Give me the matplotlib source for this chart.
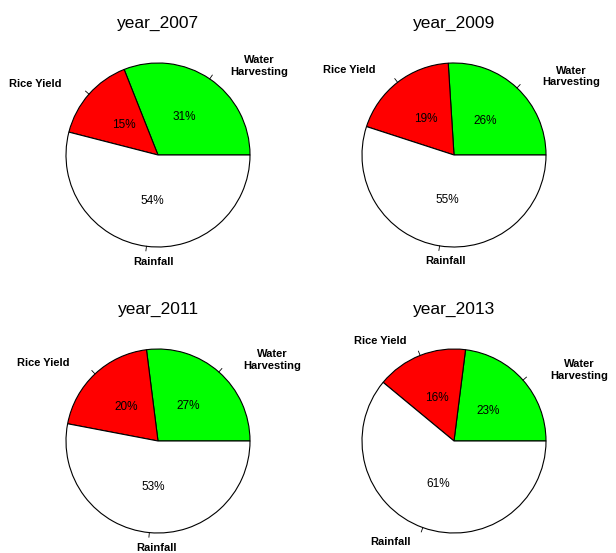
import numpy as np
import matplotlib.pyplot as plt

plt.rcParams['font.family'] = ['Liberation Sans', 'DejaVu Sans']

years = ['year_2007', 'year_2009', 'year_2011', 'year_2013']
labels = ['Water\nHarvesting', 'Rice Yield', 'Rainfall']
colors = ['#00ff00', '#ff0000', '#ffffff']

water = [31, 26, 27, 23]
rice = [15, 19, 20, 16]
rain = [54, 55, 53, 61]

# pie centres in pixels (from top-left), radius in pixels
centres = [(158, 155), (454, 155), (158, 441), (454, 441)]
R = 92
half = 150
W, H = 616, 553

fig = plt.figure(figsize=(W / 100, H / 100), dpi=100)

for i, year in enumerate(years):
    cx, cy = centres[i]
    ax = fig.add_axes([(cx - half) / W, 1 - (cy + half) / H, 2 * half / W, 2 * half / H])
    lim = half / R
    vals = [water[i], rice[i], rain[i]]
    wedges, _, autotexts = ax.pie(vals, colors=colors, startangle=0, counterclock=True,
                                  autopct='%.0f%%', pctdistance=0.5,
                                  wedgeprops=dict(edgecolor='black', linewidth=0.8),
                                  textprops=dict(fontsize=8.5))
    for t in autotexts:
        t.set_color('black')

    for w, lab in zip(wedges, labels):
        mid = np.deg2rad((w.theta1 + w.theta2) / 2)
        c, s = np.cos(mid), np.sin(mid)
        ax.plot([c, 1.05 * c], [s, 1.05 * s], color='black', lw=0.6)
        if abs(c) < 0.2:
            ha = 'center'
            x = 1.2 * c + 0.1
        else:
            ha = 'left' if c > 0 else 'right'
            x = 1.4 * c
        ax.text(x, 1.17 * s, lab, ha=ha, va='center', multialignment='center',
                fontsize=8, fontweight='bold', clip_on=False)

    ax.text(0, 1.43, year, ha='center', va='center', fontsize=12.5, clip_on=False)
    ax.set_xlim(-lim, lim)
    ax.set_ylim(-lim, lim)
    ax.set_aspect('equal')
    ax.axis('off')

plt.savefig('out.png', dpi=100)
